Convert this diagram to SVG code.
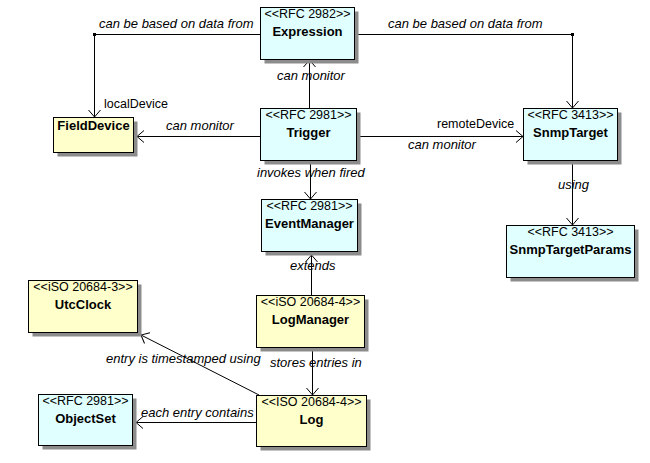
<svg xmlns="http://www.w3.org/2000/svg" width="650" height="463" viewBox="0 0 650 463">
<defs>
<style>
.sh{fill:#8c8c8c}
.cy{fill:#e0ffff;stroke:#000;stroke-width:1}
.ye{fill:#ffffcc;stroke:#000;stroke-width:1}
.st{font-family:"Liberation Sans",Arial,sans-serif;font-size:12.5px;text-anchor:middle;fill:#000}
.nm{font-family:"Liberation Sans",Arial,sans-serif;font-size:13px;font-weight:bold;text-anchor:middle;fill:#000}
.lb{font-family:"Liberation Sans",Arial,sans-serif;font-size:13px;font-style:italic;fill:#000}
.rl{font-family:"Liberation Sans",Arial,sans-serif;font-size:12.5px;fill:#000}
.ln{fill:none;stroke:#000;stroke-width:1;marker-end:url(#arr)}
</style>
<marker id="arr" markerUnits="userSpaceOnUse" markerWidth="16" markerHeight="16" viewBox="-8 -8 16 16" refX="0" refY="0" orient="auto">
<path d="M-7,-6 L0,0 L-7,6" fill="none" stroke="#000" stroke-width="1"/>
</marker>
</defs>
<rect width="650" height="463" fill="#fff"/>
<g id="connectors">
<path class="ln" d="M260,34.5 H94.5 V117"/>
<rect x="93" y="33" width="3" height="3" fill="#000"/>
<path class="ln" d="M355,34.5 H572.5 V108"/>
<rect x="571" y="33" width="3" height="3" fill="#000"/>
<path class="ln" d="M309.5,108 V60"/>
<path class="ln" d="M260,136.5 H137"/>
<path class="ln" d="M357,136.5 H523"/>
<path class="ln" d="M310.5,161 V199"/>
<path class="ln" d="M572.5,161 V225"/>
<path class="ln" d="M311.5,295 V255"/>
<path class="ln" d="M312.5,348 V395"/>
<path class="ln" d="M259,395 L141,335"/>
<path class="ln" d="M256,422.5 H136"/>
<text class="lb" x="99" y="28">can be based on data from</text>
<text class="rl" x="104" y="108">localDevice</text>
<text class="lb" x="388" y="28">can be based on data from</text>
<text class="lb" x="277" y="80">can monitor</text>
<text class="lb" x="166" y="130">can monitor</text>
<text class="rl" x="437" y="128">remoteDevice</text>
<text class="lb" x="408" y="149">can monitor</text>
<text class="lb" x="257" y="177">invokes when fired</text>
<text class="lb" x="558" y="189">using</text>
<text class="lb" x="290" y="270">extends</text>
<text class="lb" x="106" y="363">entry is timestamped using</text>
<text class="lb" x="270" y="367">stores entries in</text>
<text class="lb" x="141" y="417">each entry contains</text>
</g>
<g id="Expression">
<rect class="sh" x="264.5" y="11.5" width="94" height="52"/>
<rect class="cy" x="260.5" y="7.5" width="94" height="52"/>
<text class="st" x="307.5" y="18">&lt;&lt;RFC 2982&gt;&gt;</text>
<text class="nm" x="307.5" y="36">Expression</text>
</g>
<g id="Trigger">
<rect class="sh" x="264.5" y="112.5" width="96" height="52"/>
<rect class="cy" x="260.5" y="108.5" width="96" height="52"/>
<text class="st" x="308.5" y="119">&lt;&lt;RFC 2981&gt;&gt;</text>
<text class="nm" x="308.5" y="137">Trigger</text>
</g>
<g id="FieldDevice">
<rect class="sh" x="57.5" y="121.5" width="80" height="35"/>
<rect class="ye" x="53.5" y="117.5" width="80" height="35"/>
<text class="nm" x="93.5" y="130">FieldDevice</text>
</g>
<g id="SnmpTarget">
<rect class="sh" x="527.5" y="112.5" width="94" height="52"/>
<rect class="cy" x="523.5" y="108.5" width="94" height="52"/>
<text class="st" x="570.5" y="119">&lt;&lt;RFC 3413&gt;&gt;</text>
<text class="nm" x="570.5" y="137">SnmpTarget</text>
</g>
<g id="EventManager">
<rect class="sh" x="265.5" y="203.5" width="96" height="52"/>
<rect class="cy" x="261.5" y="199.5" width="96" height="52"/>
<text class="st" x="309.5" y="210">&lt;&lt;RFC 2981&gt;&gt;</text>
<text class="nm" x="309.5" y="228">EventManager</text>
</g>
<g id="SnmpTargetParams">
<rect class="sh" x="510.5" y="229.5" width="128" height="52"/>
<rect class="cy" x="506.5" y="225.5" width="128" height="52"/>
<text class="st" x="570.5" y="236">&lt;&lt;RFC 3413&gt;&gt;</text>
<text class="nm" x="570.5" y="254">SnmpTargetParams</text>
</g>
<g id="UtcClock">
<rect class="sh" x="32.5" y="284.5" width="109" height="52"/>
<rect class="ye" x="28.5" y="280.5" width="109" height="52"/>
<text class="st" x="83" y="291">&lt;&lt;iSO 20684-3&gt;&gt;</text>
<text class="nm" x="83" y="309">UtcClock</text>
</g>
<g id="LogManager">
<rect class="sh" x="260.5" y="299.5" width="108" height="52"/>
<rect class="ye" x="256.5" y="295.5" width="108" height="52"/>
<text class="st" x="310.5" y="306">&lt;&lt;iSO 20684-4&gt;&gt;</text>
<text class="nm" x="310.5" y="324">LogManager</text>
</g>
<g id="Log">
<rect class="sh" x="260.5" y="399.5" width="110" height="51"/>
<rect class="ye" x="256.5" y="395.5" width="110" height="51"/>
<text class="st" x="311.5" y="406">&lt;&lt;ISO 20684-4&gt;&gt;</text>
<text class="nm" x="311.5" y="424">Log</text>
</g>
<g id="ObjectSet">
<rect class="sh" x="42.5" y="398.5" width="94" height="51"/>
<rect class="cy" x="38.5" y="394.5" width="94" height="51"/>
<text class="st" x="85.5" y="405">&lt;&lt;RFC 2981&gt;&gt;</text>
<text class="nm" x="85.5" y="423">ObjectSet</text>
</g>
</svg>
